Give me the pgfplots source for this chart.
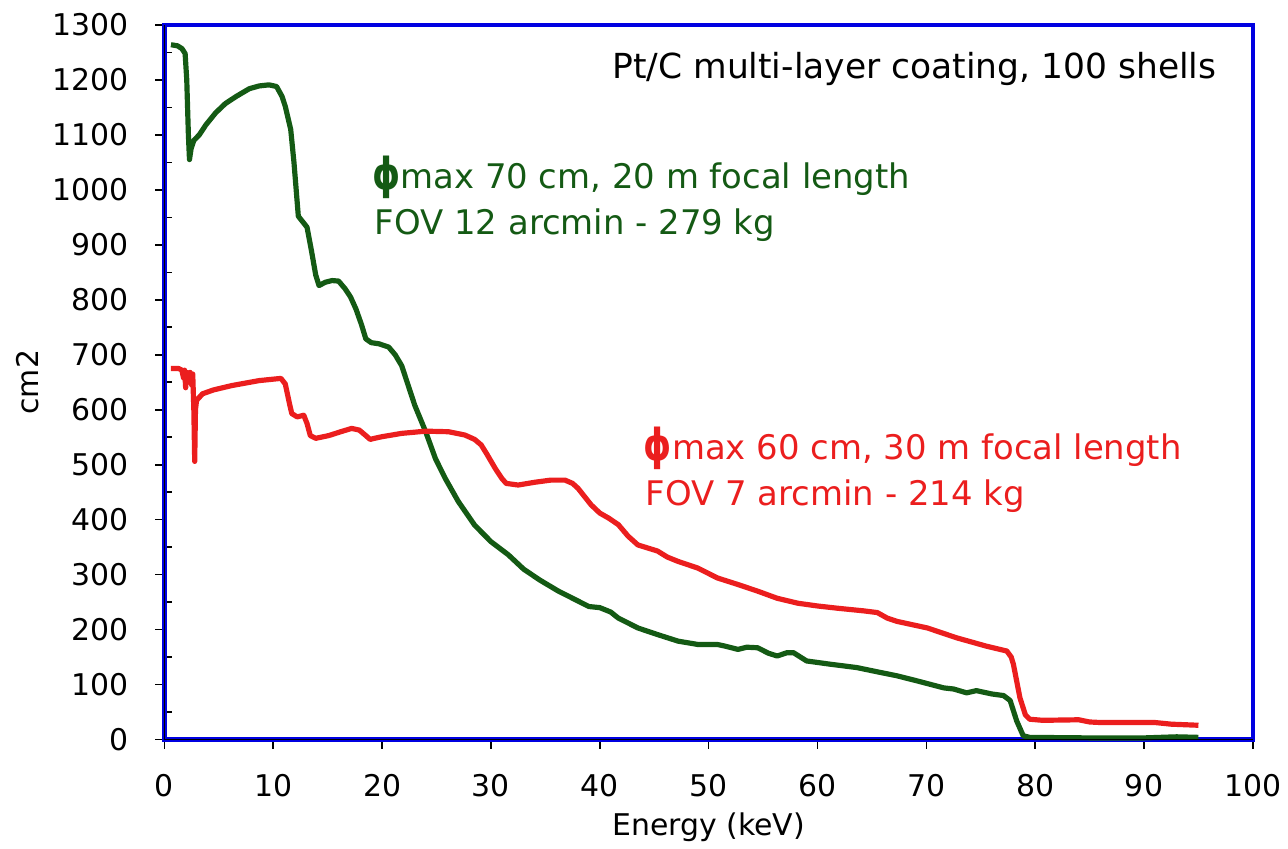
\documentclass[border=0pt]{standalone}
\usepackage{pgfplots}
\pgfplotsset{compat=1.18}
\usepackage{fontspec}
\setmainfont{DejaVu Sans}

\definecolor{curvegreen}{RGB}{20,90,20}
\definecolor{curvered}{RGB}{235,30,30}
\definecolor{framebl}{RGB}{0,0,225}

\newcommand{\phimax}{\raisebox{-0.05em}{\scalebox{1.05}[1.3]{\bfseries ϕ}}max}

% Effective area, 100 shells, Pt/C multi-layer coating
\pgfplotstableread{
E A
0.6 1264
1.2 1262
1.6 1257
1.9 1248
2.05 1200
2.2 1100
2.3 1055
2.45 1075
2.7 1090
3.2 1100
3.8 1118
4.7 1140
5.6 1157
6.6 1170
7.8 1184
8.7 1189
9.6 1191
10.3 1188
10.8 1170
11.1 1152
11.6 1110
11.9 1050
12.1 1001
12.3 952
12.7 942
13.1 932
13.5 890
13.9 845
14.2 826
14.8 832
15.4 835
16.0 834
16.6 820
17.1 805
17.6 783
18.1 755
18.5 729
19.0 722
19.7 720
20.6 714
21.2 700
21.8 680
22.4 644
23.0 608
24.0 560
24.9 511
25.8 475
27.0 433
28.5 390
30.0 360
31.6 336
33.0 310
34.5 290
36.2 270
38.0 252
39.0 242
40.0 240
41.0 232
41.7 221
43.5 203
45.3 191
47.2 179
49.0 173
50.8 173
51.5 170
52.7 164
53.5 168
54.5 167
55.5 157
56.3 152
57.2 158
57.8 158
59.0 143
61.2 137
63.6 131
65.8 122
67.3 116
69.1 107
71.6 94
72.5 92
73.7 85
74.6 89
76.0 83
77.1 80
77.7 71
78.3 34
78.9 7
79.5 4
85 3
90 3
93 5
95 4
}\phiseventy

\pgfplotstableread{
E A
0.6 675
1.3 675
1.6 672
1.75 658
1.85 672
1.95 640
2.05 668
2.2 650
2.35 668
2.5 645
2.6 665
2.7 600
2.78 506
2.85 600
2.95 617
3.5 629
4.5 636
6.2 644
8.7 653
10.7 657
11.1 647
11.5 610
11.7 593
12.2 587
12.8 590
13.1 575
13.4 553
13.9 548
15.1 553
16.2 560
17.2 566
17.9 563
18.5 553
18.9 546
19.3 548
20.0 551
21.8 557
24.0 561
26.1 560
27.6 554
28.5 546
29.1 536
29.6 520
30.4 493
31.0 475
31.4 466
32.5 463
34.0 468
35.5 472
36.8 472
37.5 466
38.0 457
39.2 427
40.0 412
40.8 403
41.7 391
42.6 370
43.5 354
45.3 343
46.2 332
47.2 324
49.0 312
50.8 294
52.7 282
54.5 270
56.3 257
58.2 248
60.0 243
61.8 239
64.3 234
65.5 231
66.4 221
67.3 215
70.1 203
72.8 185
75.5 170
77.4 161
77.8 150
78.0 137
78.6 76
79.1 45
79.5 37
80.7 35
84.0 36
85.0 32
86 31
91 31
92.5 28
95 26
}\phisixty

\begin{document}
\begin{tikzpicture}
\begin{axis}[
  scale only axis,
  width=546bp, height=358.5bp,
  xmin=0, xmax=100, ymin=0, ymax=1300,
  xtick={0,10,...,100},
  ytick={0,100,...,1300},
  minor y tick num=1,
  xtick pos=left, ytick pos=left,
  tick align=outside,
  major tick length=4.5bp,
  minor tick length=4bp,
  minor tick style={xshift=4bp},
  tick style={black, line width=0.8bp},
  axis line style={draw=framebl, line width=2.2bp},
  clip=false,
  /pgf/number format/assume math mode=true,
  /pgf/number format/set thousands separator={},
  ticklabel style={font=\fontsize{15bp}{18bp}\selectfont},
  xticklabel shift=9.5bp,
  yticklabel style={anchor=east, inner xsep=13.5bp},
  label style={font=\fontsize{15bp}{18bp}\selectfont},
  xlabel={Energy (keV)},
  ylabel={cm2},
  xlabel style={at={(axis description cs:0.5,-0.1227)}, anchor=center},
  ylabel style={at={(axis description cs:-0.1255,0.5)}, anchor=center},
]
% page frame
\path (rel axis cs:-0.1511,-0.1492) rectangle (rel axis cs:1.0284,1.0349);

\addplot[curvegreen, line width=2.6bp, line join=round] table[x=E, y=A] {\phiseventy};
\addplot[curvered, line width=2.6bp, line join=round] table[x=E, y=A] {\phisixty};

% dark inner edge on the left and bottom frame
\draw[black, line width=0.7bp] (rel axis cs:0,1) -- (rel axis cs:0,0) -- (rel axis cs:1,0);

\node[anchor=base east, font=\fontsize{17.3bp}{20bp}\selectfont] at (axis cs:97.3,1202) {Pt/C multi-layer coating, 100 shells};

\node[anchor=base west, text=curvegreen, font=\fontsize{17bp}{20bp}\selectfont, inner sep=0pt] at (axis cs:19.05,1003) {\phimax{} 70 cm, 20 m focal length};
\node[anchor=base west, text=curvegreen, font=\fontsize{17bp}{20bp}\selectfont, inner sep=0pt] at (axis cs:19.3,919) {FOV 12 arcmin - 279 kg};

\node[anchor=base west, text=curvered, font=\fontsize{17bp}{20bp}\selectfont, inner sep=0pt] at (axis cs:44.0,510) {\phimax{} 60 cm, 30 m focal length};
\node[anchor=base west, text=curvered, font=\fontsize{17bp}{20bp}\selectfont, inner sep=0pt] at (axis cs:44.2,426) {FOV 7 arcmin - 214 kg};
\end{axis}
\end{tikzpicture}
\end{document}
